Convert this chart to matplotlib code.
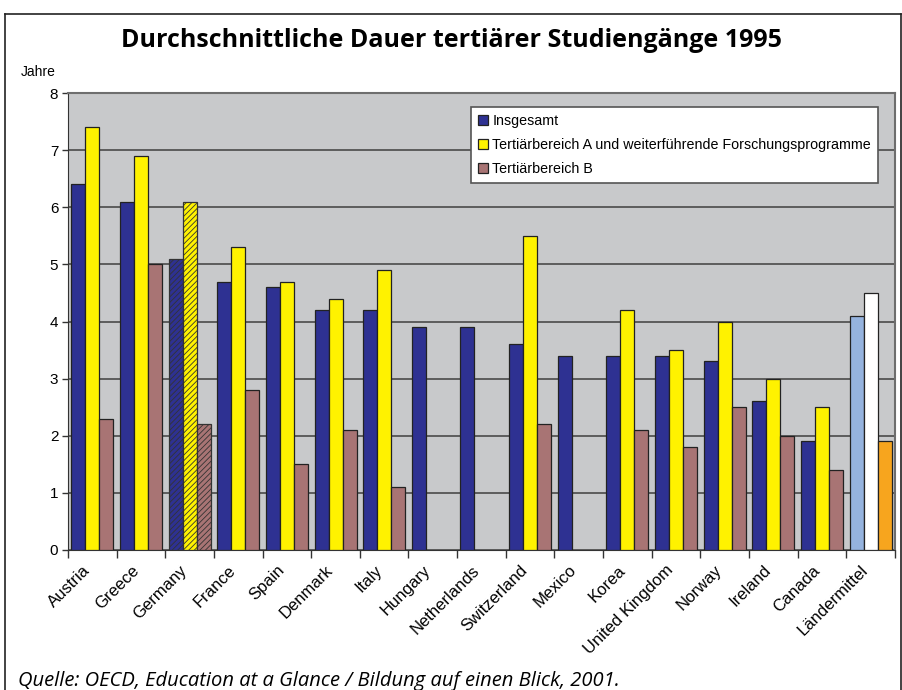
import matplotlib
matplotlib.use("Agg")
import matplotlib.pyplot as plt
import matplotlib.transforms as mtransforms
import numpy as np

plt.rcParams['font.family'] = ['Liberation Sans', 'DejaVu Sans']
plt.rcParams['hatch.linewidth'] = 0.6

countries = ["Austria", "Greece", "Germany", "France", "Spain", "Denmark", "Italy",
             "Hungary", "Netherlands", "Switzerland", "Mexico", "Korea",
             "United Kingdom", "Norway", "Ireland", "Canada", "Ländermittel"]
insgesamt = [6.4, 6.1, 5.1, 4.7, 4.6, 4.2, 4.2, 3.9, 3.9, 3.6, 3.4, 3.4, 3.4, 3.3, 2.6, 1.9, 4.1]
tert_a = [7.4, 6.9, 6.1, 5.3, 4.7, 4.4, 4.9, np.nan, np.nan, 5.5, np.nan, 4.2, 3.5, 4.0, 3.0, 2.5, 4.5]
tert_b = [2.3, 5.0, 2.2, 2.8, 1.5, 2.1, 1.1, np.nan, np.nan, 2.2, np.nan, 2.1, 1.8, 2.5, 2.0, 1.4, 1.9]
series_names = ["Insgesamt",
                "Tertiärbereich A und weiterführende Forschungsprogramme",
                "Tertiärbereich B"]

blue = "#2E3192"
yellow = "#FFF200"
brown = "#A87474"
mean_colors = ["#95B3DE", "#FFFFFF", "#F7A51E"]

fig = plt.figure(figsize=(9.03, 6.90), dpi=100)
ax = fig.add_axes([0.0753, 0.2029, 0.9157, 0.6623])
ax.set_facecolor("#C8C9CB")

x = np.arange(len(countries))
w = 0.288
n = len(countries)
for k, (vals, col) in enumerate(zip([insgesamt, tert_a, tert_b], [blue, yellow, brown])):
    cols = [col] * n
    cols[-1] = mean_colors[k]
    bars = ax.bar(x + (k - 1) * w, vals, width=w, color=cols, edgecolor="#222222",
                  linewidth=0.9, zorder=3, label=series_names[k])
    # Germany hatched
    bars[2].set_hatch("//////")
    bars[2].set_edgecolor("#333333")

ax.set_xlim(-0.5, n - 0.5)
ax.set_ylim(0, 8)
ax.set_yticks(range(0, 9))
ax.yaxis.grid(True, color="#4a4a4a", linewidth=1.2, zorder=1)
ax.tick_params(axis='y', labelsize=11, length=4, width=1, color="#333333", pad=3)

ax.set_xticks(x)
ax.set_xticklabels(countries, rotation=45, ha="right", rotation_mode="anchor",
                   fontsize=12)
ax.tick_params(axis='x', length=0, pad=9)
ax.set_xticks(np.arange(n + 1) - 0.5, minor=True)
ax.tick_params(axis='x', which='minor', length=6, width=1, color="#333333")
shift = mtransforms.ScaledTranslation(-10 / 100, 0, fig.dpi_scale_trans)
for lab in ax.get_xticklabels():
    lab.set_transform(lab.get_transform() + shift)

for side in ["top", "right"]:
    ax.spines[side].set_color("#6e6e6e")
    ax.spines[side].set_linewidth(1.5)
ax.spines["left"].set_color("#333333")
ax.spines["bottom"].set_color("#333333")

leg = ax.legend(loc="upper right", bbox_to_anchor=(0.98, 0.97), fontsize=10.3,
                frameon=True, fancybox=False, framealpha=1, facecolor="white",
                handlelength=0.7, handleheight=0.7,
                handletextpad=0.3, borderpad=0.5, labelspacing=0.7, borderaxespad=0)
leg.get_frame().set_edgecolor("#555555")
leg.get_frame().set_linewidth(1.2)
for h, c in zip(leg.legend_handles, [blue, yellow, brown]):
    h.set_facecolor(c)
    h.set_hatch(None)
    h.set_edgecolor("#222222")

fig.text(0.5, 0.942, "Durchschnittliche Dauer tertiärer Studiengänge 1995",
         ha="center", va="center", fontsize=18, fontweight="bold",
         family=["Open Sans", "DejaVu Sans"])
fig.text(0.042, 0.895, "Jahre", ha="center", va="center", fontsize=10)
fig.text(0.02, 0.013, "Quelle: OECD, Education at a Glance / Bildung auf einen Blick, 2001.",
         ha="left", va="center", fontsize=14.5, style="italic",
         family=["Open Sans", "DejaVu Sans"])

# outer frame
fig.add_artist(plt.Line2D([0.006, 0.006], [0.0, 0.98], color="#222222", linewidth=1.2))
fig.add_artist(plt.Line2D([0.006, 0.998], [0.98, 0.98], color="#222222", linewidth=1.2))
fig.add_artist(plt.Line2D([0.998, 0.998], [0.0, 0.98], color="#222222", linewidth=1.2))

fig.savefig("out.png", dpi=100)
